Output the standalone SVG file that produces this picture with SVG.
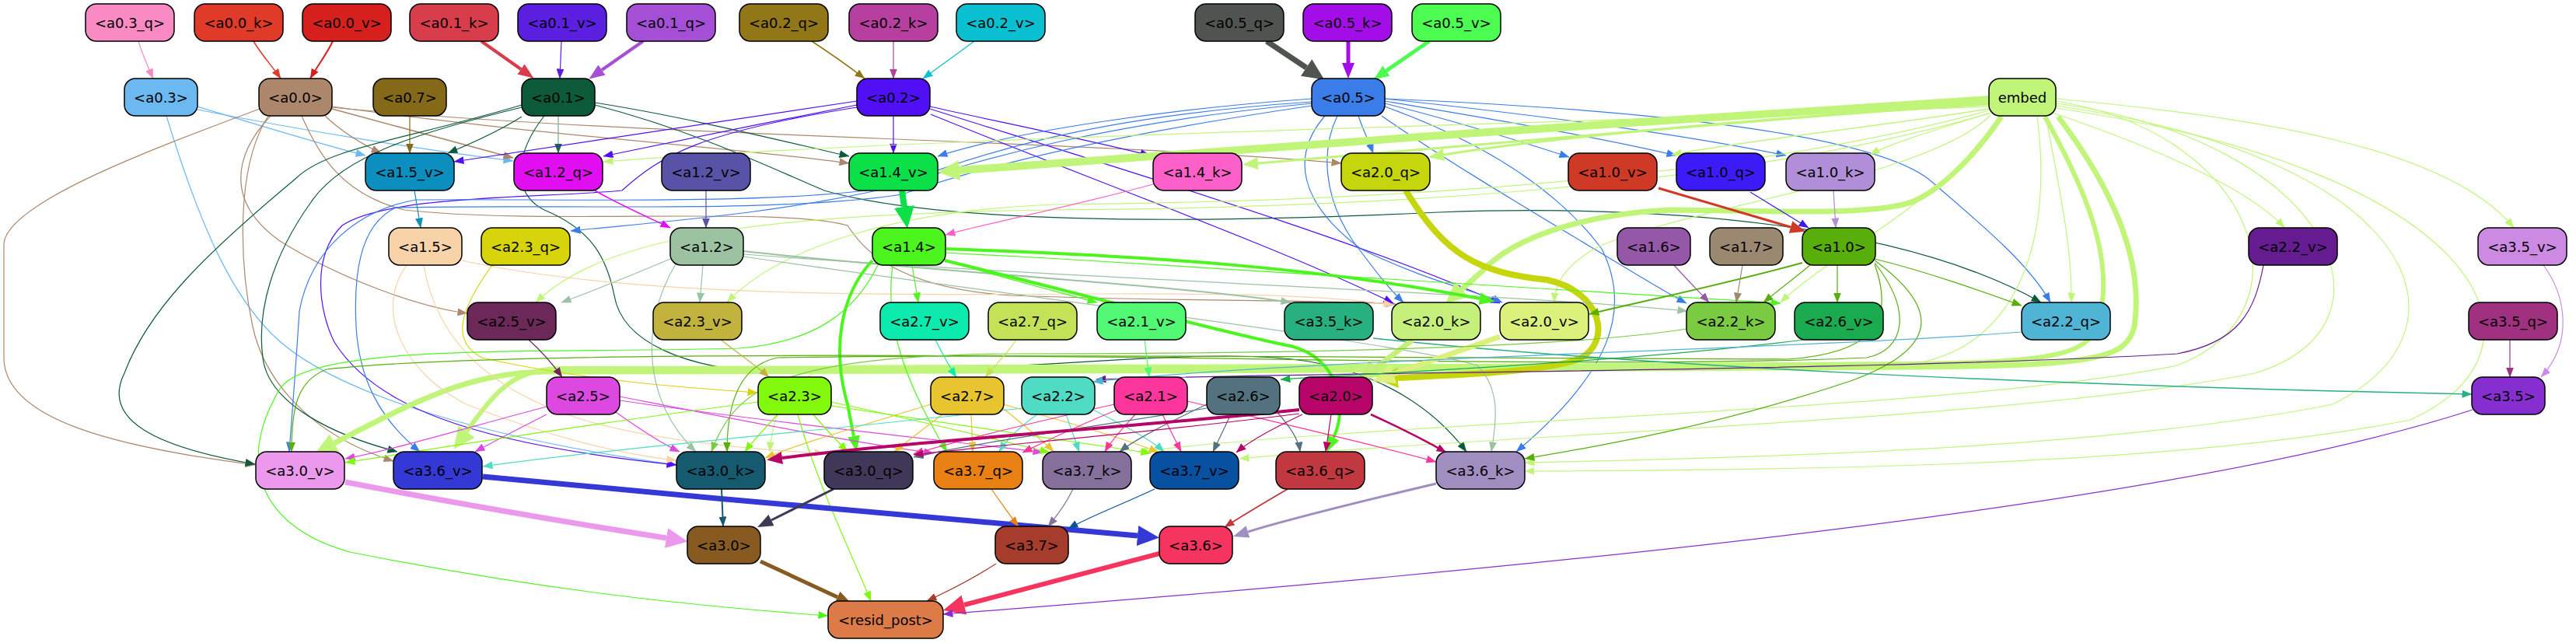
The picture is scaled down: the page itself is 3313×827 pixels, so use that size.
<svg xmlns="http://www.w3.org/2000/svg" width="3313" height="827" viewBox="0 0 3313 827">
<style>
.n rect{stroke:#000;stroke-width:1.5}
.n text{font-family:"DejaVu Sans","Liberation Sans",sans-serif;font-size:18px;fill:#000;text-anchor:middle}
</style>
<defs>
<marker id="mf98ac4" viewBox="0 0 13 10" refX="12.5" refY="5" markerWidth="13" markerHeight="10" markerUnits="userSpaceOnUse" orient="auto"><path d="M0,0L13,5L0,10z" fill="#f98ac4"/></marker>
<marker id="me03a28" viewBox="0 0 13 10" refX="12.5" refY="5" markerWidth="13" markerHeight="10" markerUnits="userSpaceOnUse" orient="auto"><path d="M0,0L13,5L0,10z" fill="#e03a28"/></marker>
<marker id="md5201e" viewBox="0 0 13 10" refX="12.5" refY="5" markerWidth="13" markerHeight="10" markerUnits="userSpaceOnUse" orient="auto"><path d="M0,0L13,5L0,10z" fill="#d5201e"/></marker>
<marker id="m5b1fe0" viewBox="0 0 13 10" refX="12.5" refY="5" markerWidth="13" markerHeight="10" markerUnits="userSpaceOnUse" orient="auto"><path d="M0,0L13,5L0,10z" fill="#5b1fe0"/></marker>
<marker id="m917717" viewBox="0 0 13 10" refX="12.5" refY="5" markerWidth="13" markerHeight="10" markerUnits="userSpaceOnUse" orient="auto"><path d="M0,0L13,5L0,10z" fill="#917717"/></marker>
<marker id="mb63fa0" viewBox="0 0 13 10" refX="12.5" refY="5" markerWidth="13" markerHeight="10" markerUnits="userSpaceOnUse" orient="auto"><path d="M0,0L13,5L0,10z" fill="#b63fa0"/></marker>
<marker id="m0ac0d0" viewBox="0 0 13 10" refX="12.5" refY="5" markerWidth="13" markerHeight="10" markerUnits="userSpaceOnUse" orient="auto"><path d="M0,0L13,5L0,10z" fill="#0ac0d0"/></marker>
<marker id="m6cb8f0" viewBox="0 0 13 10" refX="12.5" refY="5" markerWidth="13" markerHeight="10" markerUnits="userSpaceOnUse" orient="auto"><path d="M0,0L13,5L0,10z" fill="#6cb8f0"/></marker>
<marker id="mad876b" viewBox="0 0 13 10" refX="12.5" refY="5" markerWidth="13" markerHeight="10" markerUnits="userSpaceOnUse" orient="auto"><path d="M0,0L13,5L0,10z" fill="#ad876b"/></marker>
<marker id="m846a18" viewBox="0 0 13 10" refX="12.5" refY="5" markerWidth="13" markerHeight="10" markerUnits="userSpaceOnUse" orient="auto"><path d="M0,0L13,5L0,10z" fill="#846a18"/></marker>
<marker id="m0d5a3a" viewBox="0 0 13 10" refX="12.5" refY="5" markerWidth="13" markerHeight="10" markerUnits="userSpaceOnUse" orient="auto"><path d="M0,0L13,5L0,10z" fill="#0d5a3a"/></marker>
<marker id="m8fb8a0" viewBox="0 0 13 10" refX="12.5" refY="5" markerWidth="13" markerHeight="10" markerUnits="userSpaceOnUse" orient="auto"><path d="M0,0L13,5L0,10z" fill="#1e6a48"/></marker>
<marker id="m510ff5" viewBox="0 0 13 10" refX="12.5" refY="5" markerWidth="13" markerHeight="10" markerUnits="userSpaceOnUse" orient="auto"><path d="M0,0L13,5L0,10z" fill="#510ff5"/></marker>
<marker id="m3a7de8" viewBox="0 0 13 10" refX="12.5" refY="5" markerWidth="13" markerHeight="10" markerUnits="userSpaceOnUse" orient="auto"><path d="M0,0L13,5L0,10z" fill="#3a7de8"/></marker>
<marker id="mc0f57a" viewBox="0 0 13 10" refX="12.5" refY="5" markerWidth="13" markerHeight="10" markerUnits="userSpaceOnUse" orient="auto"><path d="M0,0L13,5L0,10z" fill="#c0f57a"/></marker>
<marker id="m0c8ebe" viewBox="0 0 13 10" refX="12.5" refY="5" markerWidth="13" markerHeight="10" markerUnits="userSpaceOnUse" orient="auto"><path d="M0,0L13,5L0,10z" fill="#0c8ebe"/></marker>
<marker id="me00ef0" viewBox="0 0 13 10" refX="12.5" refY="5" markerWidth="13" markerHeight="10" markerUnits="userSpaceOnUse" orient="auto"><path d="M0,0L13,5L0,10z" fill="#e00ef0"/></marker>
<marker id="m5953a8" viewBox="0 0 13 10" refX="12.5" refY="5" markerWidth="13" markerHeight="10" markerUnits="userSpaceOnUse" orient="auto"><path d="M0,0L13,5L0,10z" fill="#5953a8"/></marker>
<marker id="mfd60c8" viewBox="0 0 13 10" refX="12.5" refY="5" markerWidth="13" markerHeight="10" markerUnits="userSpaceOnUse" orient="auto"><path d="M0,0L13,5L0,10z" fill="#fd60c8"/></marker>
<marker id="m3b1cf8" viewBox="0 0 13 10" refX="12.5" refY="5" markerWidth="13" markerHeight="10" markerUnits="userSpaceOnUse" orient="auto"><path d="M0,0L13,5L0,10z" fill="#3b1cf8"/></marker>
<marker id="mb18ed8" viewBox="0 0 13 10" refX="12.5" refY="5" markerWidth="13" markerHeight="10" markerUnits="userSpaceOnUse" orient="auto"><path d="M0,0L13,5L0,10z" fill="#b18ed8"/></marker>
<marker id="mf8d2a8" viewBox="0 0 13 10" refX="12.5" refY="5" markerWidth="13" markerHeight="10" markerUnits="userSpaceOnUse" orient="auto"><path d="M0,0L13,5L0,10z" fill="#f8d2a8"/></marker>
<marker id="md8d40c" viewBox="0 0 13 10" refX="12.5" refY="5" markerWidth="13" markerHeight="10" markerUnits="userSpaceOnUse" orient="auto"><path d="M0,0L13,5L0,10z" fill="#d8d40c"/></marker>
<marker id="m9cc2a2" viewBox="0 0 13 10" refX="12.5" refY="5" markerWidth="13" markerHeight="10" markerUnits="userSpaceOnUse" orient="auto"><path d="M0,0L13,5L0,10z" fill="#9cc2a2"/></marker>
<marker id="m4cf51e" viewBox="0 0 13 10" refX="12.5" refY="5" markerWidth="13" markerHeight="10" markerUnits="userSpaceOnUse" orient="auto"><path d="M0,0L13,5L0,10z" fill="#4cf51e"/></marker>
<marker id="m58ae0a" viewBox="0 0 13 10" refX="12.5" refY="5" markerWidth="13" markerHeight="10" markerUnits="userSpaceOnUse" orient="auto"><path d="M0,0L13,5L0,10z" fill="#58ae0a"/></marker>
<marker id="m9558a8" viewBox="0 0 13 10" refX="12.5" refY="5" markerWidth="13" markerHeight="10" markerUnits="userSpaceOnUse" orient="auto"><path d="M0,0L13,5L0,10z" fill="#9558a8"/></marker>
<marker id="m9b8870" viewBox="0 0 13 10" refX="12.5" refY="5" markerWidth="13" markerHeight="10" markerUnits="userSpaceOnUse" orient="auto"><path d="M0,0L13,5L0,10z" fill="#9b8870"/></marker>
<marker id="m6c2858" viewBox="0 0 13 10" refX="12.5" refY="5" markerWidth="13" markerHeight="10" markerUnits="userSpaceOnUse" orient="auto"><path d="M0,0L13,5L0,10z" fill="#6c2858"/></marker>
<marker id="mc2b23e" viewBox="0 0 13 10" refX="12.5" refY="5" markerWidth="13" markerHeight="10" markerUnits="userSpaceOnUse" orient="auto"><path d="M0,0L13,5L0,10z" fill="#c2b23e"/></marker>
<marker id="m0ceaae" viewBox="0 0 13 10" refX="12.5" refY="5" markerWidth="13" markerHeight="10" markerUnits="userSpaceOnUse" orient="auto"><path d="M0,0L13,5L0,10z" fill="#0ceaae"/></marker>
<marker id="mc4e258" viewBox="0 0 13 10" refX="12.5" refY="5" markerWidth="13" markerHeight="10" markerUnits="userSpaceOnUse" orient="auto"><path d="M0,0L13,5L0,10z" fill="#c4e258"/></marker>
<marker id="m52f874" viewBox="0 0 13 10" refX="12.5" refY="5" markerWidth="13" markerHeight="10" markerUnits="userSpaceOnUse" orient="auto"><path d="M0,0L13,5L0,10z" fill="#52f874"/></marker>
<marker id="m28b080" viewBox="0 0 13 10" refX="12.5" refY="5" markerWidth="13" markerHeight="10" markerUnits="userSpaceOnUse" orient="auto"><path d="M0,0L13,5L0,10z" fill="#28b080"/></marker>
<marker id="m7aca42" viewBox="0 0 13 10" refX="12.5" refY="5" markerWidth="13" markerHeight="10" markerUnits="userSpaceOnUse" orient="auto"><path d="M0,0L13,5L0,10z" fill="#7aca42"/></marker>
<marker id="m641c90" viewBox="0 0 13 10" refX="12.5" refY="5" markerWidth="13" markerHeight="10" markerUnits="userSpaceOnUse" orient="auto"><path d="M0,0L13,5L0,10z" fill="#641c90"/></marker>
<marker id="m1aab50" viewBox="0 0 13 10" refX="12.5" refY="5" markerWidth="13" markerHeight="10" markerUnits="userSpaceOnUse" orient="auto"><path d="M0,0L13,5L0,10z" fill="#1aab50"/></marker>
<marker id="m50b4d4" viewBox="0 0 13 10" refX="12.5" refY="5" markerWidth="13" markerHeight="10" markerUnits="userSpaceOnUse" orient="auto"><path d="M0,0L13,5L0,10z" fill="#50b4d4"/></marker>
<marker id="ma03080" viewBox="0 0 13 10" refX="12.5" refY="5" markerWidth="13" markerHeight="10" markerUnits="userSpaceOnUse" orient="auto"><path d="M0,0L13,5L0,10z" fill="#a03080"/></marker>
<marker id="mcc8ae2" viewBox="0 0 13 10" refX="12.5" refY="5" markerWidth="13" markerHeight="10" markerUnits="userSpaceOnUse" orient="auto"><path d="M0,0L13,5L0,10z" fill="#cc8ae2"/></marker>
<marker id="mdc48e0" viewBox="0 0 13 10" refX="12.5" refY="5" markerWidth="13" markerHeight="10" markerUnits="userSpaceOnUse" orient="auto"><path d="M0,0L13,5L0,10z" fill="#dc48e0"/></marker>
<marker id="m82f80c" viewBox="0 0 13 10" refX="12.5" refY="5" markerWidth="13" markerHeight="10" markerUnits="userSpaceOnUse" orient="auto"><path d="M0,0L13,5L0,10z" fill="#82f80c"/></marker>
<marker id="me8c430" viewBox="0 0 13 10" refX="12.5" refY="5" markerWidth="13" markerHeight="10" markerUnits="userSpaceOnUse" orient="auto"><path d="M0,0L13,5L0,10z" fill="#e8c430"/></marker>
<marker id="m50dcc4" viewBox="0 0 13 10" refX="12.5" refY="5" markerWidth="13" markerHeight="10" markerUnits="userSpaceOnUse" orient="auto"><path d="M0,0L13,5L0,10z" fill="#50dcc4"/></marker>
<marker id="mfc369c" viewBox="0 0 13 10" refX="12.5" refY="5" markerWidth="13" markerHeight="10" markerUnits="userSpaceOnUse" orient="auto"><path d="M0,0L13,5L0,10z" fill="#fc369c"/></marker>
<marker id="m53717e" viewBox="0 0 13 10" refX="12.5" refY="5" markerWidth="13" markerHeight="10" markerUnits="userSpaceOnUse" orient="auto"><path d="M0,0L13,5L0,10z" fill="#53717e"/></marker>
<marker id="mb70469" viewBox="0 0 13 10" refX="12.5" refY="5" markerWidth="13" markerHeight="10" markerUnits="userSpaceOnUse" orient="auto"><path d="M0,0L13,5L0,10z" fill="#b70469"/></marker>
<marker id="m165a70" viewBox="0 0 13 10" refX="12.5" refY="5" markerWidth="13" markerHeight="10" markerUnits="userSpaceOnUse" orient="auto"><path d="M0,0L13,5L0,10z" fill="#165a70"/></marker>
<marker id="me88014" viewBox="0 0 13 10" refX="12.5" refY="5" markerWidth="13" markerHeight="10" markerUnits="userSpaceOnUse" orient="auto"><path d="M0,0L13,5L0,10z" fill="#e88014"/></marker>
<marker id="m85709c" viewBox="0 0 13 10" refX="12.5" refY="5" markerWidth="13" markerHeight="10" markerUnits="userSpaceOnUse" orient="auto"><path d="M0,0L13,5L0,10z" fill="#85709c"/></marker>
<marker id="m0850a0" viewBox="0 0 13 10" refX="12.5" refY="5" markerWidth="13" markerHeight="10" markerUnits="userSpaceOnUse" orient="auto"><path d="M0,0L13,5L0,10z" fill="#0850a0"/></marker>
<marker id="mc23840" viewBox="0 0 13 10" refX="12.5" refY="5" markerWidth="13" markerHeight="10" markerUnits="userSpaceOnUse" orient="auto"><path d="M0,0L13,5L0,10z" fill="#c23840"/></marker>
<marker id="ma63c2c" viewBox="0 0 13 10" refX="12.5" refY="5" markerWidth="13" markerHeight="10" markerUnits="userSpaceOnUse" orient="auto"><path d="M0,0L13,5L0,10z" fill="#a63c2c"/></marker>
<marker id="m862ed0" viewBox="0 0 13 10" refX="12.5" refY="5" markerWidth="13" markerHeight="10" markerUnits="userSpaceOnUse" orient="auto"><path d="M0,0L13,5L0,10z" fill="#862ed0"/></marker>
<marker id="bd83d4b" viewBox="0 0 20 16" refX="0" refY="8" markerWidth="20" markerHeight="16" markerUnits="userSpaceOnUse" orient="auto"><path d="M0,0L20,8L0,16z" fill="#d83d4b"/></marker>
<marker id="ba44fd6" viewBox="0 0 20 16" refX="0" refY="8" markerWidth="20" markerHeight="16" markerUnits="userSpaceOnUse" orient="auto"><path d="M0,0L20,8L0,16z" fill="#a44fd6"/></marker>
<marker id="ba30ee8" viewBox="0 0 20 16" refX="0" refY="8" markerWidth="20" markerHeight="16" markerUnits="userSpaceOnUse" orient="auto"><path d="M0,0L20,8L0,16z" fill="#a30ee8"/></marker>
<marker id="b4cfc50" viewBox="0 0 20 16" refX="0" refY="8" markerWidth="20" markerHeight="16" markerUnits="userSpaceOnUse" orient="auto"><path d="M0,0L20,8L0,16z" fill="#4cfc50"/></marker>
<marker id="bc0f57a" viewBox="0 0 20 16" refX="0" refY="8" markerWidth="20" markerHeight="16" markerUnits="userSpaceOnUse" orient="auto"><path d="M0,0L20,8L0,16z" fill="#c0f57a"/></marker>
<marker id="bce3a26" viewBox="0 0 20 16" refX="0" refY="8" markerWidth="20" markerHeight="16" markerUnits="userSpaceOnUse" orient="auto"><path d="M0,0L20,8L0,16z" fill="#ce3a26"/></marker>
<marker id="b4cf51e" viewBox="0 0 20 16" refX="0" refY="8" markerWidth="20" markerHeight="16" markerUnits="userSpaceOnUse" orient="auto"><path d="M0,0L20,8L0,16z" fill="#4cf51e"/></marker>
<marker id="bb70469" viewBox="0 0 20 16" refX="0" refY="8" markerWidth="20" markerHeight="16" markerUnits="userSpaceOnUse" orient="auto"><path d="M0,0L20,8L0,16z" fill="#b70469"/></marker>
<marker id="b403858" viewBox="0 0 20 16" refX="0" refY="8" markerWidth="20" markerHeight="16" markerUnits="userSpaceOnUse" orient="auto"><path d="M0,0L20,8L0,16z" fill="#403858"/></marker>
<marker id="ba08ec0" viewBox="0 0 20 16" refX="0" refY="8" markerWidth="20" markerHeight="16" markerUnits="userSpaceOnUse" orient="auto"><path d="M0,0L20,8L0,16z" fill="#a08ec0"/></marker>
<marker id="b875a22" viewBox="0 0 20 16" refX="0" refY="8" markerWidth="20" markerHeight="16" markerUnits="userSpaceOnUse" orient="auto"><path d="M0,0L20,8L0,16z" fill="#875a22"/></marker>
<marker id="x505450" viewBox="0 0 28 26" refX="0" refY="13" markerWidth="28" markerHeight="26" markerUnits="userSpaceOnUse" orient="auto"><path d="M0,0L28,13L0,26z" fill="#505450"/></marker>
<marker id="xc0f57a" viewBox="0 0 28 26" refX="0" refY="13" markerWidth="28" markerHeight="26" markerUnits="userSpaceOnUse" orient="auto"><path d="M0,0L28,13L0,26z" fill="#c0f57a"/></marker>
<marker id="x0ce048" viewBox="0 0 28 26" refX="0" refY="13" markerWidth="28" markerHeight="26" markerUnits="userSpaceOnUse" orient="auto"><path d="M0,0L28,13L0,26z" fill="#0ce048"/></marker>
<marker id="xc5d60c" viewBox="0 0 28 26" refX="0" refY="13" markerWidth="28" markerHeight="26" markerUnits="userSpaceOnUse" orient="auto"><path d="M0,0L28,13L0,26z" fill="#c5d60c"/></marker>
<marker id="xc4ef7a" viewBox="0 0 28 26" refX="0" refY="13" markerWidth="28" markerHeight="26" markerUnits="userSpaceOnUse" orient="auto"><path d="M0,0L28,13L0,26z" fill="#c4ef7a"/></marker>
<marker id="xdcf07c" viewBox="0 0 28 26" refX="0" refY="13" markerWidth="28" markerHeight="26" markerUnits="userSpaceOnUse" orient="auto"><path d="M0,0L28,13L0,26z" fill="#dcf07c"/></marker>
<marker id="xec98ec" viewBox="0 0 28 26" refX="0" refY="13" markerWidth="28" markerHeight="26" markerUnits="userSpaceOnUse" orient="auto"><path d="M0,0L28,13L0,26z" fill="#ec98ec"/></marker>
<marker id="x3438d4" viewBox="0 0 28 26" refX="0" refY="13" markerWidth="28" markerHeight="26" markerUnits="userSpaceOnUse" orient="auto"><path d="M0,0L28,13L0,26z" fill="#3438d4"/></marker>
<marker id="xf63460" viewBox="0 0 28 26" refX="0" refY="13" markerWidth="28" markerHeight="26" markerUnits="userSpaceOnUse" orient="auto"><path d="M0,0L28,13L0,26z" fill="#f63460"/></marker>
</defs>
<rect width="3313" height="827" fill="#fff"/>
<g id="connectors" fill="none" stroke-width="1.2">
<path d="M178,53 C183,70 190,85 197,101" stroke="#f98ac4" marker-end="url(#mf98ac4)"/>
<path d="M326,53 C336,70 350,85 361,101" stroke="#e03a28" stroke-width="1.5" marker-end="url(#me03a28)"/>
<path d="M428,53 C420,70 408,85 399,101" stroke="#d5201e" stroke-width="2" marker-end="url(#md5201e)"/>
<path d="M619,53 L670,89" stroke="#d83d4b" stroke-width="4" marker-end="url(#bd83d4b)"/>
<path d="M722,53 L720,101" stroke="#5b1fe0" marker-end="url(#m5b1fe0)"/>
<path d="M827,53 L774,90" stroke="#a44fd6" stroke-width="4" marker-end="url(#ba44fd6)"/>
<path d="M1044,53 C1070,70 1095,88 1112,101" stroke="#917717" stroke-width="1.5" marker-end="url(#m917717)"/>
<path d="M1149,53 L1149,101" stroke="#b63fa0" marker-end="url(#mb63fa0)"/>
<path d="M1253,53 C1230,70 1205,88 1187,101" stroke="#0ac0d0" marker-end="url(#m0ac0d0)"/>
<path d="M1629,53 L1680,87" stroke="#505450" stroke-width="7" marker-end="url(#x505450)"/>
<path d="M1734,53 L1734,81" stroke="#a30ee8" stroke-width="5" marker-end="url(#ba30ee8)"/>
<path d="M1838,53 L1783,91" stroke="#4cfc50" stroke-width="5" marker-end="url(#b4cfc50)"/>
<path d="M254,137 C330,160 410,185 470,200" stroke="#6cb8f0" marker-end="url(#m6cb8f0)"/>
<path d="M254,141 C400,170 560,195 660,207" stroke="#6cb8f0" marker-end="url(#m6cb8f0)"/>
<path d="M214,149 C260,300 300,380 350,430 C420,500 600,560 870,598" stroke="#6cb8f0" marker-end="url(#m6cb8f0)"/>
<path d="M418,149 C440,170 465,185 490,197" stroke="#ad876b" marker-end="url(#mad876b)"/>
<path d="M427,140 C520,165 610,190 660,203" stroke="#ad876b" stroke-width="1.5" marker-end="url(#mad876b)"/>
<path d="M348,149 C300,200 290,260 360,310 C440,360 540,395 601,403" stroke="#ad876b" marker-end="url(#mad876b)"/>
<path d="M334,140 C200,190 10,260 5,313 L5,460 C5,540 150,575 328,598" stroke="#ad876b" marker-end="url(#mad876b)"/>
<path d="M345,149 C300,220 310,350 325,420 C340,490 400,560 506,593" stroke="#ad876b" marker-end="url(#mad876b)"/>
<path d="M427,137 C700,175 950,190 1092,210" stroke="#ad876b" marker-end="url(#mad876b)"/>
<path d="M427,138 C800,175 1400,180 1725,210" stroke="#ad876b" marker-end="url(#mad876b)"/>
<path d="M388,149 C410,200 440,250 520,270 C700,290 1000,265 1090,290 C1110,320 1150,370 1300,380 C1500,388 1700,385 1795,391" stroke="#ad876b" marker-end="url(#mad876b)"/>
<path d="M527,149 L527,197" stroke="#846a18" marker-end="url(#m846a18)"/>
<path d="M671,150 C640,170 605,185 576,197" stroke="#0d5a3a" marker-end="url(#m0d5a3a)"/>
<path d="M718,149 L718,197" stroke="#8fb8a0" stroke-width="1.5" marker-end="url(#m8fb8a0)"/>
<path d="M671,135 C520,180 420,190 380,230 C260,330 190,400 160,480 C130,540 200,575 328,597" stroke="#0d5a3a" marker-end="url(#m0d5a3a)"/>
<path d="M671,138 C540,170 440,200 400,260 C350,330 330,400 338,460 C345,520 430,560 511,581" stroke="#0d5a3a" marker-end="url(#m0d5a3a)"/>
<path d="M765,132 C880,150 1000,180 1092,201" stroke="#0d5a3a" marker-end="url(#m0d5a3a)"/>
<path d="M765,135 C900,170 1000,220 1060,245 C1200,285 1500,290 1850,273 C2150,262 2450,290 2625,389" stroke="#0d5a3a" marker-end="url(#m0d5a3a)"/>
<path d="M700,149 C660,200 660,250 700,270 C760,295 780,330 790,380 C800,440 880,475 1000,480 C1300,480 1500,450 1640,460 C1760,468 1840,520 1886,581" stroke="#0d5a3a" marker-end="url(#m0d5a3a)"/>
<path d="M1149,149 L1149,197" stroke="#510ff5" marker-end="url(#m510ff5)"/>
<path d="M1102,130 C900,160 700,190 584,208" stroke="#510ff5" marker-end="url(#m510ff5)"/>
<path d="M1102,135 C1000,155 850,185 776,201" stroke="#510ff5" marker-end="url(#m510ff5)"/>
<path d="M1102,138 C900,170 850,200 800,245 C700,255 500,250 440,290 C400,330 410,400 430,440 C480,520 600,570 870,598" stroke="#510ff5" marker-end="url(#m510ff5)"/>
<path d="M1196,137 C1300,160 1400,180 1479,200" stroke="#510ff5" marker-end="url(#m510ff5)"/>
<path d="M1197,147 C1400,230 1650,320 1792,390" stroke="#510ff5" marker-end="url(#m510ff5)"/>
<path d="M1196,140 C1450,220 1750,310 1929,390" stroke="#510ff5" marker-end="url(#m510ff5)"/>
<path d="M1747,149 C1752,165 1760,180 1766,197" stroke="#3a7de8" marker-end="url(#m3a7de8)"/>
<path d="M1781,133 C1870,155 1950,180 2018,202" stroke="#3a7de8" marker-end="url(#m3a7de8)"/>
<path d="M1781,130 C1900,150 2050,175 2156,200" stroke="#3a7de8" marker-end="url(#m3a7de8)"/>
<path d="M1781,127 C1950,145 2150,170 2297,200" stroke="#3a7de8" marker-end="url(#m3a7de8)"/>
<path d="M1781,127 C2100,140 2400,170 2480,230 C2550,290 2610,340 2637,389" stroke="#3a7de8" marker-end="url(#m3a7de8)"/>
<path d="M1720,149 C1700,190 1700,250 1740,310 C1770,350 1785,370 1805,389" stroke="#3a7de8" marker-end="url(#m3a7de8)"/>
<path d="M1704,149 C1660,200 1670,260 1750,320 C1830,360 1900,375 1932,389" stroke="#3a7de8" marker-end="url(#m3a7de8)"/>
<path d="M1777,149 C1850,200 1950,260 2050,320 C2100,350 2140,375 2169,390" stroke="#3a7de8" marker-end="url(#m3a7de8)"/>
<path d="M1781,137 C1900,180 2000,240 2060,320 C2100,400 2070,480 1950,581" stroke="#3a7de8" marker-end="url(#m3a7de8)"/>
<path d="M1687,127 C1500,140 1300,170 1206,201" stroke="#3a7de8" marker-end="url(#m3a7de8)"/>
<path d="M1687,131 C1400,150 1250,200 1150,240 C1000,275 850,285 734,297" stroke="#3a7de8" marker-end="url(#m3a7de8)"/>
<path d="M1687,133 C1400,160 1250,210 1150,240 C1000,265 700,255 535,257 C460,270 400,320 385,400 C380,480 375,540 372,581" stroke="#3a7de8" marker-end="url(#m3a7de8)"/>
<path d="M1687,136 C1420,175 1260,215 1160,250 C1000,275 700,262 509,267 C460,290 455,360 458,420 C462,490 490,540 540,581" stroke="#3a7de8" marker-end="url(#m3a7de8)"/>
<path d="M2558,128 C2200,150 1600,190 1234,219" stroke="#c0f57a" stroke-width="10" marker-end="url(#xc0f57a)"/>
<path d="M2558,131 C2200,160 1800,195 1618,210" stroke="#c0f57a" stroke-width="3" marker-end="url(#bc0f57a)"/>
<path d="M2558,134 C2300,150 2000,175 1857,199" stroke="#c0f57a" stroke-width="3" marker-end="url(#bc0f57a)"/>
<path d="M2558,137 C2000,160 1200,175 776,208" stroke="#c0f57a" marker-end="url(#mc0f57a)"/>
<path d="M2558,140 C2400,165 2250,180 2150,199" stroke="#c0f57a" stroke-width="1.5" marker-end="url(#mc0f57a)"/>
<path d="M2560,145 C2480,170 2430,185 2405,199" stroke="#c0f57a" marker-end="url(#mc0f57a)"/>
<path d="M2574,150 C2540,200 2500,240 2465,257 C2420,280 2250,270 2146,270 C2050,275 1950,300 1905,350 L1880,372" stroke="#c0f57a" stroke-width="7" marker-end="url(#xc0f57a)"/>
<path d="M2647,150 C2700,220 2760,320 2745,420 C2735,460 2700,470 2470,472 C2000,476 1200,478 700,478 C620,480 560,500 430,570" stroke="#c0f57a" stroke-width="7" marker-end="url(#xc0f57a)"/>
<path d="M2630,150 C2680,240 2720,330 2700,410 C2690,455 2650,465 2470,468 C2000,472 1200,474 720,474 C660,476 640,500 600,555" stroke="#c0f57a" stroke-width="6" marker-end="url(#xc0f57a)"/>
<path d="M2631,149 C2650,250 2665,320 2664,389" stroke="#c0f57a" marker-end="url(#mc0f57a)"/>
<path d="M2640,145 C2800,200 2900,250 2938,293" stroke="#c0f57a" marker-end="url(#mc0f57a)"/>
<path d="M2644,127 C2900,150 3150,190 3233,293" stroke="#c0f57a" marker-end="url(#mc0f57a)"/>
<path d="M2558,142 C2200,240 1700,260 1360,263 C1150,270 1000,320 935,389" stroke="#c0f57a" marker-end="url(#mc0f57a)"/>
<path d="M2558,146 C2200,250 1700,268 1350,270 C1000,275 780,300 689,389" stroke="#c0f57a" marker-end="url(#mc0f57a)"/>
<path d="M2560,148 C2480,230 2150,270 2050,320 C2010,345 2000,365 1999,389" stroke="#c0f57a" marker-end="url(#mc0f57a)"/>
<path d="M2575,149 C2500,260 2350,330 2290,389" stroke="#c0f57a" marker-end="url(#mc0f57a)"/>
<path d="M2620,150 C2640,300 2600,440 2470,466 C2000,470 1300,468 1080,470 C1020,480 995,520 990,581" stroke="#c0f57a" marker-end="url(#mc0f57a)"/>
<path d="M2644,130 C2900,170 2980,400 2800,470 C2500,530 1800,540 1463,581" stroke="#c0f57a" marker-end="url(#mc0f57a)"/>
<path d="M2644,133 C3000,180 3100,420 2900,480 C2600,540 1900,560 1594,590" stroke="#c0f57a" marker-end="url(#mc0f57a)"/>
<path d="M2644,136 C3100,200 3200,420 3000,520 C2700,580 2200,590 1961,595" stroke="#c0f57a" marker-end="url(#mc0f57a)"/>
<path d="M2644,139 C3200,220 3300,450 3100,540 C2800,600 2300,605 1961,606" stroke="#c0f57a" marker-end="url(#mc0f57a)"/>
<path d="M533,245 L541,293" stroke="#0c8ebe" marker-end="url(#m0c8ebe)"/>
<path d="M765,245 C800,265 835,280 862,293" stroke="#e00ef0" stroke-width="1.5" marker-end="url(#me00ef0)"/>
<path d="M908,245 L908,293" stroke="#5953a8" marker-end="url(#m5953a8)"/>
<path d="M1160,245 L1163,266" stroke="#0ce048" stroke-width="8" marker-end="url(#x0ce048)"/>
<path d="M1483,237 C1380,265 1280,285 1216,302" stroke="#fd60c8" marker-end="url(#mfd60c8)"/>
<path d="M1808,245 C1860,330 1900,350 1990,360 C2060,375 2075,440 2030,462 C1980,480 1850,483 1798,486" stroke="#c5d60c" stroke-width="8" marker-end="url(#xc5d60c)"/>
<path d="M2133,242 L2303,292" stroke="#ce3a26" stroke-width="3" marker-end="url(#bce3a26)"/>
<path d="M2251,247 C2280,265 2305,280 2326,293" stroke="#3b1cf8" marker-end="url(#m3b1cf8)"/>
<path d="M2358,245 L2361,293" stroke="#b18ed8" marker-end="url(#mb18ed8)"/>
<path d="M523,341 C480,400 520,480 600,520 C700,560 800,585 870,592" stroke="#f8d2a8" marker-end="url(#mf8d2a8)"/>
<path d="M545,341 C560,430 620,500 750,540 C850,570 1000,580 1060,583" stroke="#f8d2a8" marker-end="url(#mf8d2a8)"/>
<path d="M594,335 C800,380 1100,380 1400,378 C1600,377 1700,380 1792,392" stroke="#f8d2a8" marker-end="url(#mf8d2a8)"/>
<path d="M633,341 C590,400 580,440 620,460 C750,490 900,500 974,505" stroke="#d8d40c" marker-end="url(#md8d40c)"/>
<path d="M862,333 C810,355 760,375 722,389" stroke="#9cc2a2" marker-end="url(#m9cc2a2)"/>
<path d="M904,341 L900,389" stroke="#9cc2a2" marker-end="url(#m9cc2a2)"/>
<path d="M870,338 C820,420 830,520 895,581" stroke="#9cc2a2" marker-end="url(#m9cc2a2)"/>
<path d="M956,323 C1200,350 1500,365 1660,389" stroke="#9cc2a2" stroke-width="2" marker-end="url(#m9cc2a2)"/>
<path d="M956,327 C1400,360 1900,375 2170,400" stroke="#9cc2a2" marker-end="url(#m9cc2a2)"/>
<path d="M956,330 C1300,380 1800,440 1900,470 C1930,500 1925,540 1918,581" stroke="#9cc2a2" marker-end="url(#m9cc2a2)"/>
<path d="M1173,341 L1181,389" stroke="#4cf51e" marker-end="url(#m4cf51e)"/>
<path d="M1215,335 C1300,360 1370,378 1411,389" stroke="#4cf51e" marker-end="url(#m4cf51e)"/>
<path d="M1122,335 C1080,380 1070,450 1090,520 L1098,561" stroke="#4cf51e" stroke-width="4" marker-end="url(#b4cf51e)"/>
<path d="M1215,320 C1500,330 1700,345 1903,384" stroke="#4cf51e" stroke-width="4" marker-end="url(#b4cf51e)"/>
<path d="M1215,335 C1400,380 1580,430 1660,445 C1720,460 1735,520 1715,563" stroke="#4cf51e" stroke-width="4" marker-end="url(#b4cf51e)"/>
<path d="M1215,325 C1600,345 2000,370 2290,390" stroke="#4cf51e" marker-end="url(#m4cf51e)"/>
<path d="M1129,341 C1100,400 1050,440 950,448 C700,455 400,440 360,500 C300,600 340,680 450,710 C700,760 900,780 1065,792" stroke="#4cf51e" marker-end="url(#m4cf51e)"/>
<path d="M1148,341 C1140,400 1150,470 1218,581" stroke="#4cf51e" marker-end="url(#m4cf51e)"/>
<path d="M2328,341 C2305,360 2285,375 2268,389" stroke="#58ae0a" marker-end="url(#m58ae0a)"/>
<path d="M2363,341 L2363,389" stroke="#58ae0a" marker-end="url(#m58ae0a)"/>
<path d="M2318,338 C2200,370 2100,390 2044,404" stroke="#58ae0a" stroke-width="2" marker-end="url(#m58ae0a)"/>
<path d="M2411,333 C2480,350 2550,375 2600,393" stroke="#58ae0a" marker-end="url(#m58ae0a)"/>
<path d="M2411,335 C2500,400 2490,450 2380,490 C2200,550 2050,575 1961,590" stroke="#58ae0a" marker-end="url(#m58ae0a)"/>
<path d="M2411,338 C2460,400 2450,450 2401,460 C2200,470 1800,465 1500,460 C1100,455 600,455 420,475 C380,490 375,530 375,581" stroke="#58ae0a" marker-end="url(#m58ae0a)"/>
<path d="M2411,340 C2440,420 2400,455 2300,462 C1800,460 1300,455 1000,460 C950,470 935,520 935,581" stroke="#58ae0a" marker-end="url(#m58ae0a)"/>
<path d="M2153,341 C2170,360 2185,375 2198,389" stroke="#9558a8" marker-end="url(#m9558a8)"/>
<path d="M2241,341 L2233,389" stroke="#9b8870" marker-end="url(#m9b8870)"/>
<path d="M680,437 C700,455 712,470 723,485" stroke="#6c2858" marker-end="url(#m6c2858)"/>
<path d="M927,437 C950,455 972,470 989,485" stroke="#c2b23e" marker-end="url(#mc2b23e)"/>
<path d="M1203,437 C1212,455 1220,470 1230,485" stroke="#0ceaae" marker-end="url(#m0ceaae)"/>
<path d="M1307,437 C1295,455 1280,470 1267,485" stroke="#c4e258" marker-end="url(#mc4e258)"/>
<path d="M1472,437 L1478,485" stroke="#52f874" marker-end="url(#m52f874)"/>
<path d="M1766,435 C2100,470 2600,495 3179,507" stroke="#28b080" stroke-width="1.5" marker-end="url(#m28b080)"/>
<path d="M1817,437 L1769,473" stroke="#c4ef7a" stroke-width="7" marker-end="url(#xc4ef7a)"/>
<path d="M1929,433 L1792,481" stroke="#dcf07c" stroke-width="7" marker-end="url(#xdcf07c)"/>
<path d="M2169,423 C2000,450 1600,455 1300,455 C1000,458 945,500 915,581" stroke="#7aca42" marker-end="url(#m7aca42)"/>
<path d="M2911,341 C2900,400 2880,440 2800,455 C2400,478 1700,478 1410,488" stroke="#641c90" marker-end="url(#m641c90)"/>
<path d="M2320,437 C2100,465 1800,478 1647,488" stroke="#1aab50" marker-end="url(#m1aab50)"/>
<path d="M2600,427 C2300,450 1700,460 1406,491" stroke="#50b4d4" marker-end="url(#m50b4d4)"/>
<path d="M3228,437 L3228,485" stroke="#a03080" marker-end="url(#ma03080)"/>
<path d="M3271,341 C3300,380 3310,440 3268,485" stroke="#cc8ae2" marker-end="url(#mcc8ae2)"/>
<path d="M703,523 C600,550 520,575 444,590" stroke="#dc48e0" marker-end="url(#mdc48e0)"/>
<path d="M703,533 C670,550 640,565 611,581" stroke="#dc48e0" marker-end="url(#mdc48e0)"/>
<path d="M792,530 C820,550 850,570 874,581" stroke="#dc48e0" marker-end="url(#mdc48e0)"/>
<path d="M797,510 C950,540 1100,570 1201,583" stroke="#dc48e0" marker-end="url(#mdc48e0)"/>
<path d="M797,515 C1000,545 1250,570 1341,582" stroke="#dc48e0" marker-end="url(#mdc48e0)"/>
<path d="M975,517 C800,540 600,570 444,595" stroke="#82f80c" marker-end="url(#m82f80c)"/>
<path d="M1000,533 C985,550 970,565 958,581" stroke="#82f80c" marker-end="url(#m82f80c)"/>
<path d="M1046,533 C1060,550 1075,565 1090,581" stroke="#82f80c" marker-end="url(#m82f80c)"/>
<path d="M1069,517 C1200,545 1300,570 1350,582" stroke="#82f80c" marker-end="url(#m82f80c)"/>
<path d="M1069,522 C1250,550 1400,570 1480,583" stroke="#82f80c" marker-end="url(#m82f80c)"/>
<path d="M1026,533 C1050,620 1090,700 1120,773" stroke="#82f80c" marker-end="url(#m82f80c)"/>
<path d="M1197,520 C1100,550 1030,570 984,589" stroke="#e8c430" marker-end="url(#me8c430)"/>
<path d="M1212,533 C1190,550 1170,565 1150,581" stroke="#e8c430" marker-end="url(#me8c430)"/>
<path d="M1249,533 L1251,581" stroke="#e8c430" marker-end="url(#me8c430)"/>
<path d="M1290,525 C1320,550 1340,565 1355,581" stroke="#e8c430" marker-end="url(#me8c430)"/>
<path d="M1290,520 C1380,545 1450,565 1490,582" stroke="#e8c430" marker-end="url(#me8c430)"/>
<path d="M1314,525 C1100,550 800,575 621,600" stroke="#50dcc4" marker-end="url(#m50dcc4)"/>
<path d="M1334,533 C1310,550 1295,565 1285,581" stroke="#50dcc4" marker-end="url(#m50dcc4)"/>
<path d="M1371,533 L1388,581" stroke="#50dcc4" marker-end="url(#m50dcc4)"/>
<path d="M1402,525 C1450,550 1480,565 1497,581" stroke="#50dcc4" marker-end="url(#m50dcc4)"/>
<path d="M1433,520 C1300,550 1220,570 1175,584" stroke="#fc369c" marker-end="url(#mfc369c)"/>
<path d="M1437,527 C1380,550 1340,570 1315,582" stroke="#fc369c" marker-end="url(#mfc369c)"/>
<path d="M1460,533 C1445,550 1430,565 1421,581" stroke="#fc369c" marker-end="url(#mfc369c)"/>
<path d="M1495,533 L1519,581" stroke="#fc369c" marker-end="url(#mfc369c)"/>
<path d="M1527,516 C1650,545 1780,575 1847,594" stroke="#fc369c" marker-end="url(#mfc369c)"/>
<path d="M1552,520 C1500,545 1460,565 1440,581" stroke="#53717e" marker-end="url(#m53717e)"/>
<path d="M1583,533 L1560,581" stroke="#53717e" marker-end="url(#m53717e)"/>
<path d="M1640,527 C1660,550 1670,565 1672,581" stroke="#53717e" marker-end="url(#m53717e)"/>
<path d="M1552,525 C1400,550 1250,570 1175,588" stroke="#53717e" marker-end="url(#m53717e)"/>
<path d="M1671,527 C1450,550 1200,565 1006,589" stroke="#b70469" stroke-width="4" marker-end="url(#bb70469)"/>
<path d="M1671,532 C1450,560 1250,575 1175,585" stroke="#b70469" marker-end="url(#mb70469)"/>
<path d="M1675,533 C1640,550 1610,565 1590,582" stroke="#b70469" marker-end="url(#mb70469)"/>
<path d="M1712,533 L1705,581" stroke="#b70469" marker-end="url(#mb70469)"/>
<path d="M1763,533 C1800,550 1830,565 1860,582" stroke="#b70469" stroke-width="2.5" marker-end="url(#mb70469)"/>
<path d="M444,620 C600,650 750,675 857,692" stroke="#ec98ec" stroke-width="7" marker-end="url(#xec98ec)"/>
<path d="M621,613 C900,640 1200,665 1463,689" stroke="#3438d4" stroke-width="7" marker-end="url(#x3438d4)"/>
<path d="M928,629 L930,677" stroke="#165a70" stroke-width="2" marker-end="url(#m165a70)"/>
<path d="M1072,629 L992,669" stroke="#403858" stroke-width="3" marker-end="url(#b403858)"/>
<path d="M1275,629 C1290,650 1300,665 1310,677" stroke="#e88014" marker-end="url(#me88014)"/>
<path d="M1380,629 C1370,650 1358,665 1348,677" stroke="#85709c" marker-end="url(#m85709c)"/>
<path d="M1485,629 C1440,650 1400,665 1374,680" stroke="#0850a0" marker-end="url(#m0850a0)"/>
<path d="M1656,629 C1620,650 1595,665 1575,678" stroke="#c23840" stroke-width="2" marker-end="url(#mc23840)"/>
<path d="M1847,622 C1750,645 1650,670 1605,684" stroke="#a08ec0" stroke-width="3" marker-end="url(#ba08ec0)"/>
<path d="M978,722 L1077,768" stroke="#875a22" stroke-width="5" marker-end="url(#b875a22)"/>
<path d="M1281,725 C1250,745 1220,760 1192,773" stroke="#a63c2c" marker-end="url(#ma63c2c)"/>
<path d="M1491,712 L1240,778" stroke="#f63460" stroke-width="6" marker-end="url(#xf63460)"/>
<path d="M3180,527 C2800,650 2000,730 1213,790" stroke="#862ed0" marker-end="url(#m862ed0)"/>
</g>
<g id="n-a0_3_q" class="n"><rect x="110" y="5" width="114" height="48" rx="14" fill="#f98ac4"/><text x="167" y="35.5">&lt;a0.3_q&gt;</text></g>
<g id="n-a0_0_k" class="n"><rect x="250" y="5" width="114" height="48" rx="14" fill="#e03a28"/><text x="307" y="35.5">&lt;a0.0_k&gt;</text></g>
<g id="n-a0_0_v" class="n"><rect x="389" y="5" width="114" height="48" rx="14" fill="#d5201e"/><text x="446" y="35.5">&lt;a0.0_v&gt;</text></g>
<g id="n-a0_1_k" class="n"><rect x="527" y="5" width="114" height="48" rx="14" fill="#d83d4b"/><text x="584" y="35.5">&lt;a0.1_k&gt;</text></g>
<g id="n-a0_1_v" class="n"><rect x="666" y="5" width="114" height="48" rx="14" fill="#5b1fe0"/><text x="723" y="35.5">&lt;a0.1_v&gt;</text></g>
<g id="n-a0_1_q" class="n"><rect x="806" y="5" width="114" height="48" rx="14" fill="#a44fd6"/><text x="863" y="35.5">&lt;a0.1_q&gt;</text></g>
<g id="n-a0_2_q" class="n"><rect x="951" y="5" width="114" height="48" rx="14" fill="#917717"/><text x="1008" y="35.5">&lt;a0.2_q&gt;</text></g>
<g id="n-a0_2_k" class="n"><rect x="1092" y="5" width="114" height="48" rx="14" fill="#b63fa0"/><text x="1149" y="35.5">&lt;a0.2_k&gt;</text></g>
<g id="n-a0_2_v" class="n"><rect x="1230" y="5" width="114" height="48" rx="14" fill="#0ac0d0"/><text x="1287" y="35.5">&lt;a0.2_v&gt;</text></g>
<g id="n-a0_5_q" class="n"><rect x="1537" y="5" width="114" height="48" rx="14" fill="#505450"/><text x="1594" y="35.5">&lt;a0.5_q&gt;</text></g>
<g id="n-a0_5_k" class="n"><rect x="1676" y="5" width="114" height="48" rx="14" fill="#a30ee8"/><text x="1733" y="35.5">&lt;a0.5_k&gt;</text></g>
<g id="n-a0_5_v" class="n"><rect x="1816" y="5" width="114" height="48" rx="14" fill="#4cfc50"/><text x="1873" y="35.5">&lt;a0.5_v&gt;</text></g>
<g id="n-a0_3" class="n"><rect x="160" y="101" width="94" height="48" rx="14" fill="#6cb8f0"/><text x="207" y="131.5">&lt;a0.3&gt;</text></g>
<g id="n-a0_0" class="n"><rect x="333" y="101" width="94" height="48" rx="14" fill="#ad876b"/><text x="380" y="131.5">&lt;a0.0&gt;</text></g>
<g id="n-a0_7" class="n"><rect x="480" y="101" width="94" height="48" rx="14" fill="#846a18"/><text x="527" y="131.5">&lt;a0.7&gt;</text></g>
<g id="n-a0_1" class="n"><rect x="671" y="101" width="94" height="48" rx="14" fill="#0d5a3a"/><text x="718" y="131.5">&lt;a0.1&gt;</text></g>
<g id="n-a0_2" class="n"><rect x="1102" y="101" width="94" height="48" rx="14" fill="#510ff5"/><text x="1149" y="131.5">&lt;a0.2&gt;</text></g>
<g id="n-a0_5" class="n"><rect x="1687" y="101" width="94" height="48" rx="14" fill="#3a7de8"/><text x="1734" y="131.5">&lt;a0.5&gt;</text></g>
<g id="n-embed" class="n"><rect x="2558" y="101" width="86" height="48" rx="14" fill="#c0f57a"/><text x="2601" y="131.5">embed</text></g>
<g id="n-a1_5_v" class="n"><rect x="470" y="197" width="114" height="48" rx="14" fill="#0c8ebe"/><text x="527" y="227.5">&lt;a1.5_v&gt;</text></g>
<g id="n-a1_2_q" class="n"><rect x="661" y="197" width="114" height="48" rx="14" fill="#e00ef0"/><text x="718" y="227.5">&lt;a1.2_q&gt;</text></g>
<g id="n-a1_2_v" class="n"><rect x="851" y="197" width="114" height="48" rx="14" fill="#5953a8"/><text x="908" y="227.5">&lt;a1.2_v&gt;</text></g>
<g id="n-a1_4_v" class="n"><rect x="1092" y="197" width="114" height="48" rx="14" fill="#0ce048"/><text x="1149" y="227.5">&lt;a1.4_v&gt;</text></g>
<g id="n-a1_4_k" class="n"><rect x="1483" y="197" width="114" height="48" rx="14" fill="#fd60c8"/><text x="1540" y="227.5">&lt;a1.4_k&gt;</text></g>
<g id="n-a2_0_q" class="n"><rect x="1725" y="197" width="114" height="48" rx="14" fill="#c5d60c"/><text x="1782" y="227.5">&lt;a2.0_q&gt;</text></g>
<g id="n-a1_0_v" class="n"><rect x="2017" y="197" width="114" height="48" rx="14" fill="#ce3a26"/><text x="2074" y="227.5">&lt;a1.0_v&gt;</text></g>
<g id="n-a1_0_q" class="n"><rect x="2156" y="197" width="114" height="48" rx="14" fill="#3b1cf8"/><text x="2213" y="227.5">&lt;a1.0_q&gt;</text></g>
<g id="n-a1_0_k" class="n"><rect x="2297" y="197" width="114" height="48" rx="14" fill="#b18ed8"/><text x="2354" y="227.5">&lt;a1.0_k&gt;</text></g>
<g id="n-a1_5" class="n"><rect x="500" y="293" width="94" height="48" rx="14" fill="#f8d2a8"/><text x="547" y="323.5">&lt;a1.5&gt;</text></g>
<g id="n-a2_3_q" class="n"><rect x="619" y="293" width="114" height="48" rx="14" fill="#d8d40c"/><text x="676" y="323.5">&lt;a2.3_q&gt;</text></g>
<g id="n-a1_2" class="n"><rect x="862" y="293" width="94" height="48" rx="14" fill="#9cc2a2"/><text x="909" y="323.5">&lt;a1.2&gt;</text></g>
<g id="n-a1_4" class="n"><rect x="1122" y="293" width="94" height="48" rx="14" fill="#4cf51e"/><text x="1169" y="323.5">&lt;a1.4&gt;</text></g>
<g id="n-a1_6" class="n"><rect x="2080" y="293" width="94" height="48" rx="14" fill="#9558a8"/><text x="2127" y="323.5">&lt;a1.6&gt;</text></g>
<g id="n-a1_7" class="n"><rect x="2199" y="293" width="94" height="48" rx="14" fill="#9b8870"/><text x="2246" y="323.5">&lt;a1.7&gt;</text></g>
<g id="n-a1_0" class="n"><rect x="2318" y="293" width="94" height="48" rx="14" fill="#58ae0a"/><text x="2365" y="323.5">&lt;a1.0&gt;</text></g>
<g id="n-a2_2_v" class="n"><rect x="2892" y="293" width="114" height="48" rx="14" fill="#641c90"/><text x="2949" y="323.5">&lt;a2.2_v&gt;</text></g>
<g id="n-a3_5_v" class="n"><rect x="3187" y="293" width="114" height="48" rx="14" fill="#cc8ae2"/><text x="3244" y="323.5">&lt;a3.5_v&gt;</text></g>
<g id="n-a2_5_v" class="n"><rect x="601" y="389" width="114" height="48" rx="14" fill="#6c2858"/><text x="658" y="419.5">&lt;a2.5_v&gt;</text></g>
<g id="n-a2_3_v" class="n"><rect x="840" y="389" width="114" height="48" rx="14" fill="#c2b23e"/><text x="897" y="419.5">&lt;a2.3_v&gt;</text></g>
<g id="n-a2_7_v" class="n"><rect x="1132" y="389" width="114" height="48" rx="14" fill="#0ceaae"/><text x="1189" y="419.5">&lt;a2.7_v&gt;</text></g>
<g id="n-a2_7_q" class="n"><rect x="1271" y="389" width="114" height="48" rx="14" fill="#c4e258"/><text x="1328" y="419.5">&lt;a2.7_q&gt;</text></g>
<g id="n-a2_1_v" class="n"><rect x="1411" y="389" width="114" height="48" rx="14" fill="#52f874"/><text x="1468" y="419.5">&lt;a2.1_v&gt;</text></g>
<g id="n-a3_5_k" class="n"><rect x="1652" y="389" width="114" height="48" rx="14" fill="#28b080"/><text x="1709" y="419.5">&lt;a3.5_k&gt;</text></g>
<g id="n-a2_0_k" class="n"><rect x="1790" y="389" width="114" height="48" rx="14" fill="#c4ef7a"/><text x="1847" y="419.5">&lt;a2.0_k&gt;</text></g>
<g id="n-a2_0_v" class="n"><rect x="1929" y="389" width="114" height="48" rx="14" fill="#dcf07c"/><text x="1986" y="419.5">&lt;a2.0_v&gt;</text></g>
<g id="n-a2_2_k" class="n"><rect x="2169" y="389" width="114" height="48" rx="14" fill="#7aca42"/><text x="2226" y="419.5">&lt;a2.2_k&gt;</text></g>
<g id="n-a2_6_v" class="n"><rect x="2308" y="389" width="114" height="48" rx="14" fill="#1aab50"/><text x="2365" y="419.5">&lt;a2.6_v&gt;</text></g>
<g id="n-a2_2_q" class="n"><rect x="2600" y="389" width="114" height="48" rx="14" fill="#50b4d4"/><text x="2657" y="419.5">&lt;a2.2_q&gt;</text></g>
<g id="n-a3_5_q" class="n"><rect x="3175" y="389" width="114" height="48" rx="14" fill="#a03080"/><text x="3232" y="419.5">&lt;a3.5_q&gt;</text></g>
<g id="n-a2_5" class="n"><rect x="703" y="485" width="94" height="48" rx="14" fill="#dc48e0"/><text x="750" y="515.5">&lt;a2.5&gt;</text></g>
<g id="n-a2_3" class="n"><rect x="975" y="485" width="94" height="48" rx="14" fill="#82f80c"/><text x="1022" y="515.5">&lt;a2.3&gt;</text></g>
<g id="n-a2_7" class="n"><rect x="1197" y="485" width="94" height="48" rx="14" fill="#e8c430"/><text x="1244" y="515.5">&lt;a2.7&gt;</text></g>
<g id="n-a2_2" class="n"><rect x="1314" y="485" width="94" height="48" rx="14" fill="#50dcc4"/><text x="1361" y="515.5">&lt;a2.2&gt;</text></g>
<g id="n-a2_1" class="n"><rect x="1433" y="485" width="94" height="48" rx="14" fill="#fc369c"/><text x="1480" y="515.5">&lt;a2.1&gt;</text></g>
<g id="n-a2_6" class="n"><rect x="1552" y="485" width="94" height="48" rx="14" fill="#53717e"/><text x="1599" y="515.5">&lt;a2.6&gt;</text></g>
<g id="n-a2_0" class="n"><rect x="1671" y="485" width="94" height="48" rx="14" fill="#b70469"/><text x="1718" y="515.5">&lt;a2.0&gt;</text></g>
<g id="n-a3_5" class="n"><rect x="3179" y="485" width="94" height="48" rx="14" fill="#862ed0"/><text x="3226" y="515.5">&lt;a3.5&gt;</text></g>
<g id="n-a3_0_v" class="n"><rect x="329" y="581" width="114" height="48" rx="14" fill="#ec98ec"/><text x="386" y="611.5">&lt;a3.0_v&gt;</text></g>
<g id="n-a3_6_v" class="n"><rect x="506" y="581" width="114" height="48" rx="14" fill="#3438d4"/><text x="563" y="611.5">&lt;a3.6_v&gt;</text></g>
<g id="n-a3_0_k" class="n"><rect x="870" y="581" width="114" height="48" rx="14" fill="#165a70"/><text x="927" y="611.5">&lt;a3.0_k&gt;</text></g>
<g id="n-a3_0_q" class="n"><rect x="1060" y="581" width="114" height="48" rx="14" fill="#403858"/><text x="1117" y="611.5">&lt;a3.0_q&gt;</text></g>
<g id="n-a3_7_q" class="n"><rect x="1201" y="581" width="114" height="48" rx="14" fill="#e88014"/><text x="1258" y="611.5">&lt;a3.7_q&gt;</text></g>
<g id="n-a3_7_k" class="n"><rect x="1341" y="581" width="114" height="48" rx="14" fill="#85709c"/><text x="1398" y="611.5">&lt;a3.7_k&gt;</text></g>
<g id="n-a3_7_v" class="n"><rect x="1479" y="581" width="114" height="48" rx="14" fill="#0850a0"/><text x="1536" y="611.5">&lt;a3.7_v&gt;</text></g>
<g id="n-a3_6_q" class="n"><rect x="1641" y="581" width="114" height="48" rx="14" fill="#c23840"/><text x="1698" y="611.5">&lt;a3.6_q&gt;</text></g>
<g id="n-a3_6_k" class="n"><rect x="1847" y="581" width="114" height="48" rx="14" fill="#a08ec0"/><text x="1904" y="611.5">&lt;a3.6_k&gt;</text></g>
<g id="n-a3_0" class="n"><rect x="884" y="677" width="94" height="48" rx="14" fill="#875a22"/><text x="931" y="707.5">&lt;a3.0&gt;</text></g>
<g id="n-a3_7" class="n"><rect x="1280" y="677" width="94" height="48" rx="14" fill="#a63c2c"/><text x="1327" y="707.5">&lt;a3.7&gt;</text></g>
<g id="n-a3_6" class="n"><rect x="1491" y="677" width="94" height="48" rx="14" fill="#f63460"/><text x="1538" y="707.5">&lt;a3.6&gt;</text></g>
<g id="n-resid_post" class="n"><rect x="1065" y="773" width="148" height="48" rx="14" fill="#dc7a48"/><text x="1139" y="803.5">&lt;resid_post&gt;</text></g>
</svg>
